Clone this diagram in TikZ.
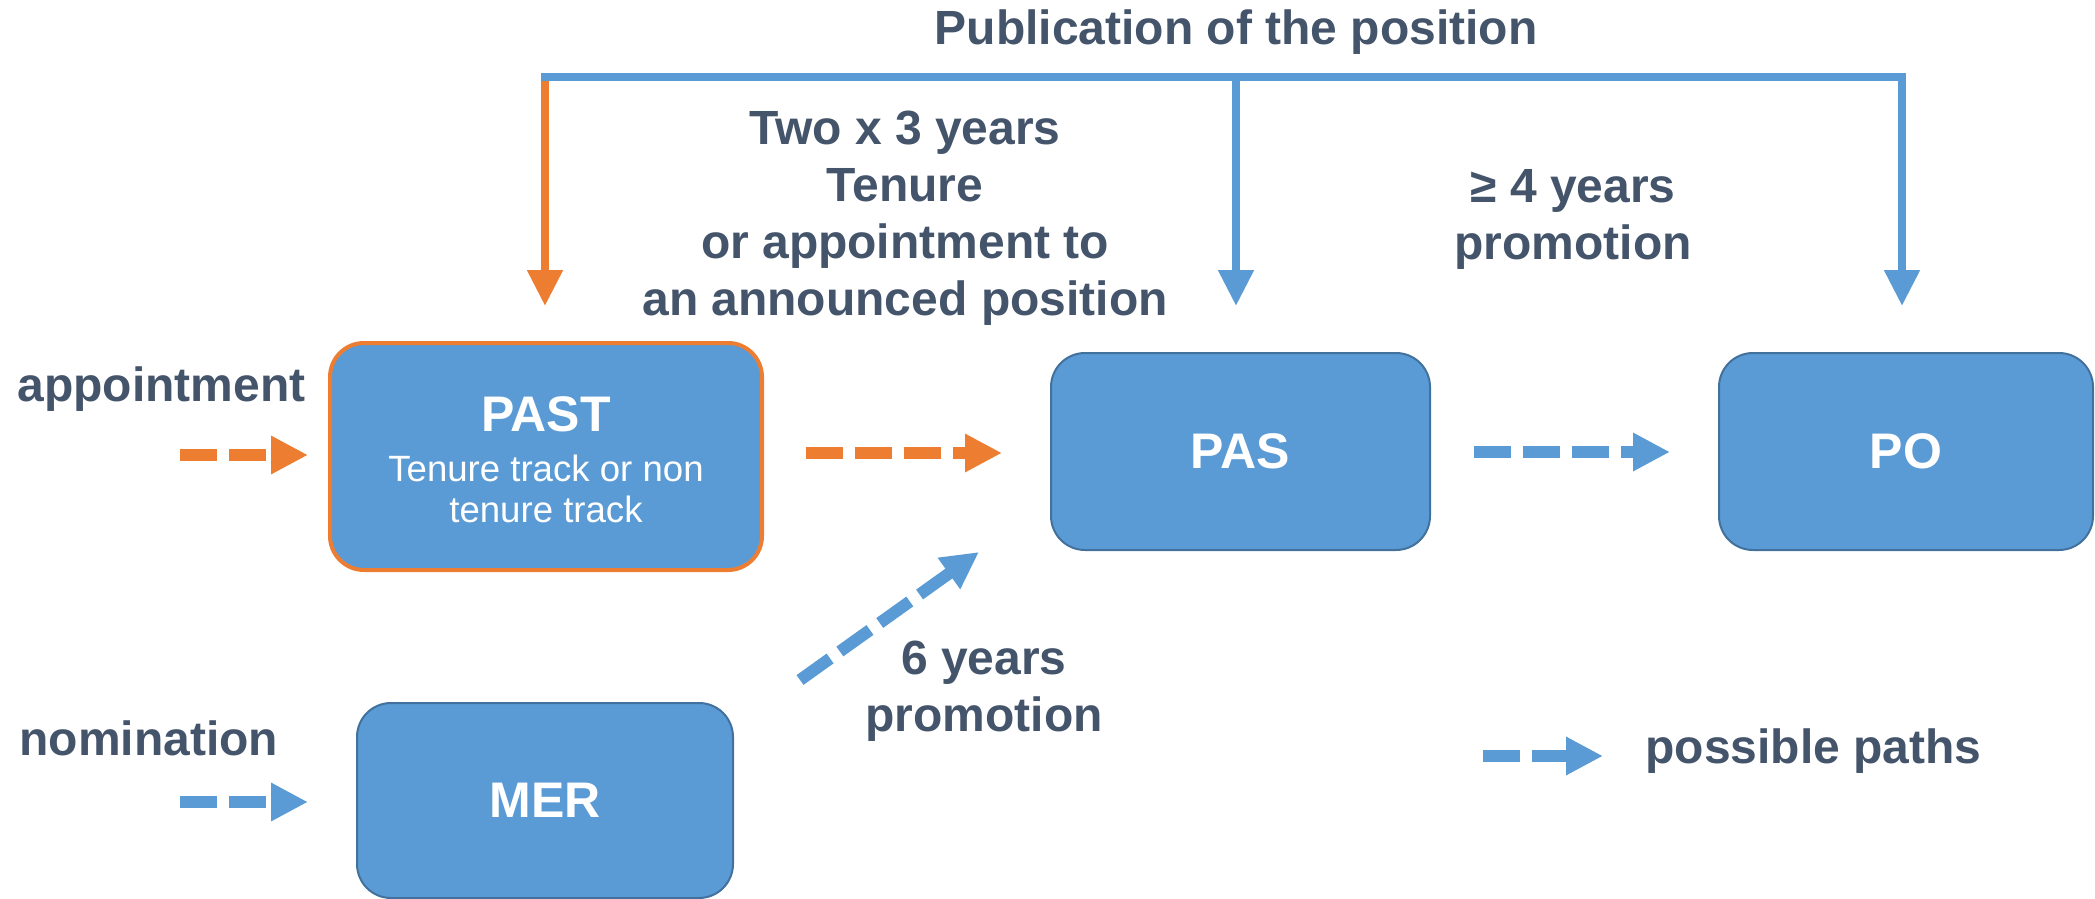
\documentclass[tikz,border=0pt]{standalone}
\usepackage{fontspec}
\setmainfont{Liberation Sans}
\usetikzlibrary{arrows.meta}
\definecolor{boxblue}{HTML}{5B9BD5}
\definecolor{boxedge}{HTML}{41719C}
\definecolor{orng}{HTML}{ED7D31}
\definecolor{txt}{HTML}{44546A}
\begin{document}
\begin{tikzpicture}[x=0.5pt,y=-0.5pt,
 box/.style={draw=boxedge, line width=1pt, fill=boxblue, rounded corners=17pt, inner sep=0pt, text=white, font=\fontsize{25}{30}\selectfont\bfseries},
 lbl/.style={text=txt, font=\fontsize{24}{28.5}\selectfont\bfseries, align=center, inner sep=0pt},
 dasharrow/.style={line width=6pt, dash pattern=on 18.5pt off 6pt, -{Triangle[length=18.5pt,width=18pt]}},
 solidarrow/.style={line width=4pt, -{Triangle[length=18pt,width=17pt]}},
]
\useasboundingbox (0,0) rectangle (2095,899);

% boxes
\node[box, draw=orng, line width=2pt, minimum width=216pt, minimum height=113.5pt, align=center, font=\fontsize{18.3}{20.5}\selectfont] (past) at (546,456.5)
  {\rule{0pt}{21pt}{\fontsize{25}{30}\selectfont\bfseries PAST}\\[4.5pt]Tenure track or non\\tenure track};
\node[box, minimum width=189.5pt, minimum height=98.5pt] (pas) at (1240.5,451.5) {PAS};
\node[box, minimum width=187pt, minimum height=98.5pt] (po) at (1906,451.5) {PO};
\node[box, minimum width=188pt, minimum height=97.5pt] (mer) at (545,800.5) {MER};

% labels (base = baseline of last line)
\node[lbl, anchor=base] (pub) at (1236,45) {Publication of the position};
\node[lbl, anchor=base] (two) at (905,315) {Two x 3 years\\Tenure\\or appointment to\\an announced position};
\node[lbl, anchor=base] (four) at (1573,259) {≥ 4 years\\promotion};
\node[lbl, anchor=base] (six) at (984,731) {6 years\\promotion};
\node[lbl, anchor=base west] (appt) at (17,401) {appointment};
\node[lbl, anchor=base west] (nomi) at (19,755) {nomination};
\node[lbl, anchor=base west] (poss) at (1645,763) {possible paths};

% top publication lines
\coordinate (pubL) at (541,77);
\coordinate (pubR) at (1906,77);
\coordinate (v1s) at (545,77);
\coordinate (v1e) at (545,306);
\coordinate (v2s) at (1236,77);
\coordinate (v2e) at (1236,306);
\coordinate (v3s) at (1902,77);
\coordinate (v3e) at (1902,306);
\draw[solidarrow, orng] (v1s) -- (v1e);
\draw[solidarrow, boxblue] (v2s) -- (v2e);
\draw[solidarrow, boxblue] (v3s) -- (v3e);
\draw[line width=4pt, boxblue] (pubL) -- (pubR);

% dashed arrows
\coordinate (a1s) at (180,455); \coordinate (a1e) at (308,455);
\coordinate (a2s) at (806,453); \coordinate (a2e) at (1002,453);
\coordinate (a3s) at (1474,452); \coordinate (a3e) at (1670,452);
\coordinate (a4s) at (180,802); \coordinate (a4e) at (308,802);
\coordinate (a5s) at (800,680); \coordinate (a5e) at (979,552);
\coordinate (a6s) at (1483,756); \coordinate (a6e) at (1603,756);
\draw[dasharrow, orng] (a1s) -- (a1e);
\draw[dasharrow, orng] (a2s) -- (a2e);
\draw[dasharrow, boxblue] (a3s) -- (a3e);
\draw[dasharrow, boxblue] (a4s) -- (a4e);
\draw[dasharrow, boxblue] (a5s) -- (a5e);
\draw[dasharrow, boxblue] (a6s) -- (a6e);
\end{tikzpicture}
\end{document}
